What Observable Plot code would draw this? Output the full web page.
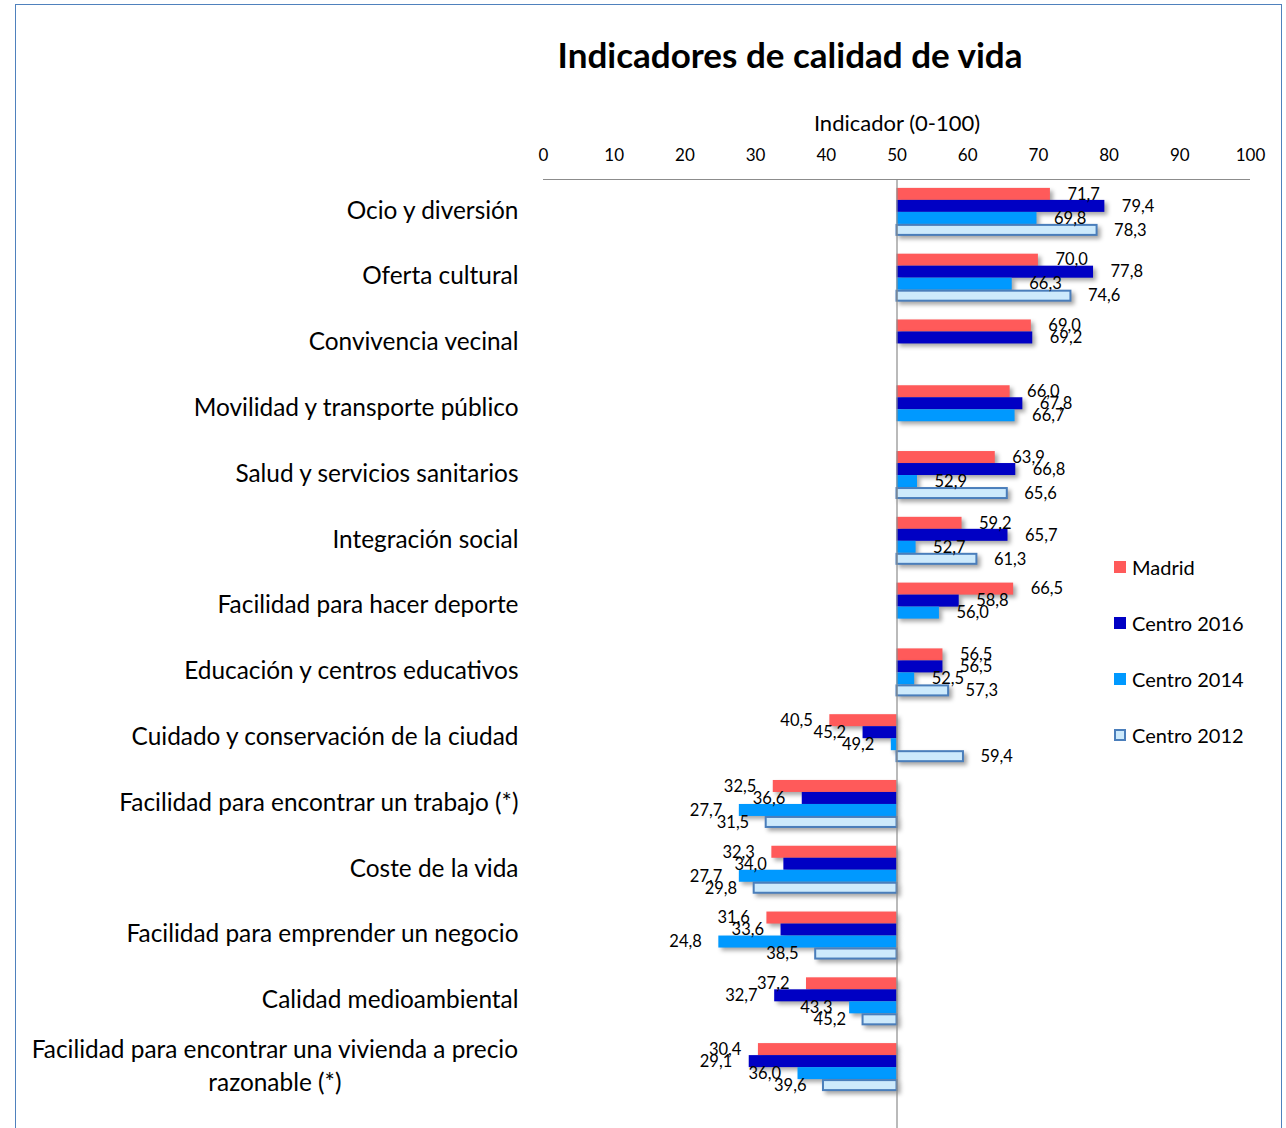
<!DOCTYPE html>
<html><head><meta charset="utf-8">
<script src="https://cdn.jsdelivr.net/npm/d3@7"></script>
<script src="https://cdn.jsdelivr.net/npm/@observablehq/plot@0.6"></script>
<style>
body{margin:0;background:#fff;font-family:Lato,"Open Sans",sans-serif;}
#wrap{position:relative;width:1286px;height:1128px;overflow:hidden;}
#frame{position:absolute;left:15px;top:4px;width:1267px;height:1300px;border:1.5px solid #4f81bd;box-sizing:border-box;pointer-events:none;}
#title{height:90px;box-sizing:border-box;padding-top:33px;padding-left:294px;width:1286px;text-align:center;font-weight:bold;font-size:35px;line-height:42px;color:#000;}
#chart svg{display:block;}
#legend{position:absolute;left:1114px;top:0;font-size:20px;color:#000;}
.li{position:absolute;left:0;white-space:nowrap;line-height:24px;height:24px;}
.sw{position:absolute;left:0;top:6px;width:12px;height:12px;box-sizing:border-box;}
.lt{position:absolute;left:18px;top:0;}
</style></head>
<body><div id="wrap"><div id="frame"></div><div id="title">Indicadores de calidad de vida</div><div id="chart"></div><div id="legend"></div></div>
<script>
const categories = [
  "Ocio y diversión",
  "Oferta cultural",
  "Convivencia vecinal",
  "Movilidad y transporte público",
  "Salud y servicios sanitarios",
  "Integración social",
  "Facilidad para hacer deporte",
  "Educación y centros educativos",
  "Cuidado y conservación de la ciudad",
  "Facilidad para encontrar un trabajo (*)",
  "Coste de la vida",
  "Facilidad para emprender un negocio",
  "Calidad medioambiental",
  "Facilidad para encontrar una vivienda a precio\nrazonable (*)"
];
const seriesNames = ["Madrid", "Centro 2016", "Centro 2014", "Centro 2012"];
const madrid     = [71.7, 70.0, 69.0, 66.0, 63.9, 59.2, 66.5, 56.5, 40.5, 32.5, 32.3, 31.6, 37.2, 30.4];
const centro2016 = [79.4, 77.8, 69.2, 67.8, 66.8, 65.7, 58.8, 56.5, 45.2, 36.6, 34.0, 33.6, 32.7, 29.1];
const centro2014 = [69.8, 66.3, null, 66.7, 52.9, 52.7, 56.0, 52.5, 49.2, 27.7, 27.7, 24.8, 43.3, 36.0];
const centro2012 = [78.3, 74.6, null, null, 65.6, 61.3, null, 57.3, 59.4, 31.5, 29.8, 38.5, 45.2, 39.6];
const xTicks = [0, 10, 20, 30, 40, 50, 60, 70, 80, 90, 100];
const baseline = 50;
const axisLabel = "Indicador (0-100)";

const seriesValues = [madrid, centro2016, centro2014, centro2012];
const fills = ["#ff5a5a", "#0000c4", "#0099ff", "#cdeafc"];
const strokes = [null, null, null, "#4a7ebb"];

const step = (1100 - 179) / categories.length;
const barH = 12;
const groupTop = (step - 4 * barH) / 2;
const fmt = v => v.toFixed(1).replace(".", ",");
const catFont = 24.4;
const fontFam = "Lato, 'Open Sans', sans-serif";

const ctx = document.createElement("canvas").getContext("2d");
ctx.font = catFont + "px Lato";
const wrapped = categories.find(c => c.includes("\n"));
const firstLineW = ctx.measureText(wrapped.split("\n")[0]).width;
const wrapDx = -25 - firstLineW / 2;

const marks = [];
seriesValues.forEach((vals, i) => {
  const rows = categories.map((c, j) => ({cat: c, value: vals[j]})).filter(d => d.value != null);
  const insetTop = groupTop + barH * i;
  const insetBottom = step - groupTop - barH * (i + 1);
  marks.push(Plot.barX(rows, {
    y: "cat", x1: () => baseline, x2: "value",
    fill: fills[i], stroke: strokes[i], strokeWidth: strokes[i] ? 2 : 0,
    insetTop: strokes[i] ? insetTop + 1 : insetTop,
    insetBottom: strokes[i] ? insetBottom + 1 : insetBottom
  }));
});
const labelMarks = [];
seriesValues.forEach((vals, i) => {
  const rows = categories.map((c, j) => ({cat: c, value: vals[j]})).filter(d => d.value != null);
  const dy = -step / 2 + groupTop + barH * i + barH / 2;
  labelMarks.push(Plot.text(rows.filter(d => d.value >= baseline), {
    x: "value", y: "cat", text: d => fmt(d.value), dx: 17, dy, textAnchor: "start", fontSize: 16.5, fill: "#000"
  }));
  labelMarks.push(Plot.text(rows.filter(d => d.value < baseline), {
    x: "value", y: "cat", text: d => fmt(d.value), dx: -17, dy, textAnchor: "end", fontSize: 16.5, fill: "#000"
  }));
});

const plot = Plot.plot({
  width: 1286, height: 1038,
  marginTop: 89, marginBottom: 28, marginLeft: 543, marginRight: 36,
  style: {fontFamily: fontFam, background: "#fff"},
  x: {domain: [0, 100], ticks: xTicks},
  y: {domain: categories, type: "band", padding: 0, round: false, axis: null},
  marks: [
    Plot.ruleY([categories[0]], {dy: -step / 2, stroke: "#8c8c8c", strokeWidth: 1.2}),
    ...marks,
    Plot.ruleX([baseline], {stroke: "#8c8c8c", strokeWidth: 1.2, insetBottom: -30, insetTop: 0}),
    ...labelMarks,
    Plot.axisX(xTicks, {anchor: "top", tickSize: 0, tickPadding: 19, fontSize: 17, label: null, fill: "#000"}),
    Plot.text([axisLabel], {frameAnchor: "top", x: () => baseline, text: d => d, dy: -56, lineAnchor: "middle", fontSize: 22, fill: "#000"}),
    Plot.text(categories.filter(c => !c.includes("\n")), {y: d => d, text: d => d, frameAnchor: "left", dx: -25, dy: -1.5, textAnchor: "end", fontSize: catFont, fill: "#000"}),
    Plot.text(categories.filter(c => c.includes("\n")), {y: d => d, text: d => d, frameAnchor: "left", dx: wrapDx, dy: -4, textAnchor: "middle", lineAnchor: "middle", lineHeight: 1.36, fontSize: catFont, fill: "#000"})
  ]
});
document.getElementById("chart").appendChild(plot);
d3.select(plot).selectAll('g[aria-label="bar"]').style("filter", "drop-shadow(3px 3px 2px rgba(0,0,0,0.35))");

const legendTops = [555, 611, 667, 723];
const legend = document.getElementById("legend");
seriesNames.forEach((s, i) => {
  const li = document.createElement("div");
  li.className = "li";
  li.style.top = legendTops[i] + "px";
  const sw = document.createElement("div");
  sw.className = "sw";
  sw.style.background = fills[i];
  if (strokes[i]) sw.style.border = "2px solid " + strokes[i];
  const t = document.createElement("div");
  t.className = "lt";
  t.textContent = s;
  li.appendChild(sw); li.appendChild(t);
  legend.appendChild(li);
});
</script></body></html>
